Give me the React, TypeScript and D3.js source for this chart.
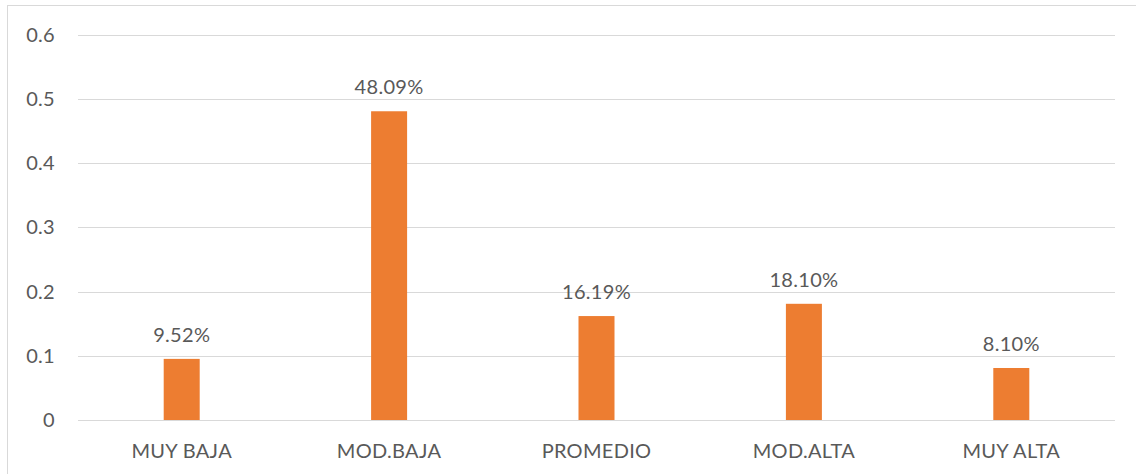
import React from "react";
import * as d3 from "d3";

const categories = ["MUY BAJA", "MOD.BAJA", "PROMEDIO", "MOD.ALTA", "MUY ALTA"];
const values = [0.0952, 0.4809, 0.1619, 0.181, 0.081];
const valueLabels = ["9.52%", "48.09%", "16.19%", "18.10%", "8.10%"];
const yTicks = [0, 0.1, 0.2, 0.3, 0.4, 0.5, 0.6];

const W = 1136;
const H = 474;
const plot = { left: 78, right: 1115, top: 34.8, bottom: 420 };
const font = "Lato, 'Open Sans', sans-serif";
const textColor = "#595959";
const fs = 20;
const ls = 0.3;

export default function App() {
  const x = d3
    .scaleBand<string>()
    .domain(categories)
    .range([plot.left, plot.right])
    .paddingInner(0)
    .paddingOuter(0);
  const y = d3.scaleLinear().domain([0, 0.6]).range([plot.bottom, plot.top]);
  const barW = 36;

  return (
    <svg
      width={W}
      height={H}
      style={{ position: "absolute", left: 0, top: 0, background: "#fff" }}
    >
      <rect x={7.5} y={5.5} width={W + 10} height={H + 10} fill="#fff" stroke="#d9d9d9" strokeWidth={1} />
      {yTicks.map((t) => (
        <g key={t}>
          <line
            x1={plot.left}
            x2={plot.right}
            y1={Math.round(y(t)) + 0.5}
            y2={Math.round(y(t)) + 0.5}
            stroke="#d9d9d9"
            strokeWidth={1}
          />
          <text
            x={55}
            y={y(t)}
            dy="0.35em"
            textAnchor="end"
            fontFamily={font}
            fontSize={fs}
            letterSpacing={ls}
            fill={textColor}
          >
            {t === 0 ? "0" : d3.format(".1f")(t)}
          </text>
        </g>
      ))}
      {categories.map((c, i) => {
        const cx = (x(c) as number) + x.bandwidth() / 2;
        return (
          <g key={c}>
            <rect
              x={cx - barW / 2}
              y={y(values[i])}
              width={barW}
              height={plot.bottom - y(values[i])}
              fill="#ED7D31"
            />
            <text
              x={cx}
              y={y(values[i]) - 17}
              textAnchor="middle"
              fontFamily={font}
              fontSize={fs}
              letterSpacing={ls}
              fill={textColor}
            >
              {valueLabels[i]}
            </text>
            <text
              x={cx}
              y={458}
              textAnchor="middle"
              fontFamily={font}
              fontSize={fs}
              letterSpacing={ls}
              fill={textColor}
            >
              {c}
            </text>
          </g>
        );
      })}
    </svg>
  );
}
